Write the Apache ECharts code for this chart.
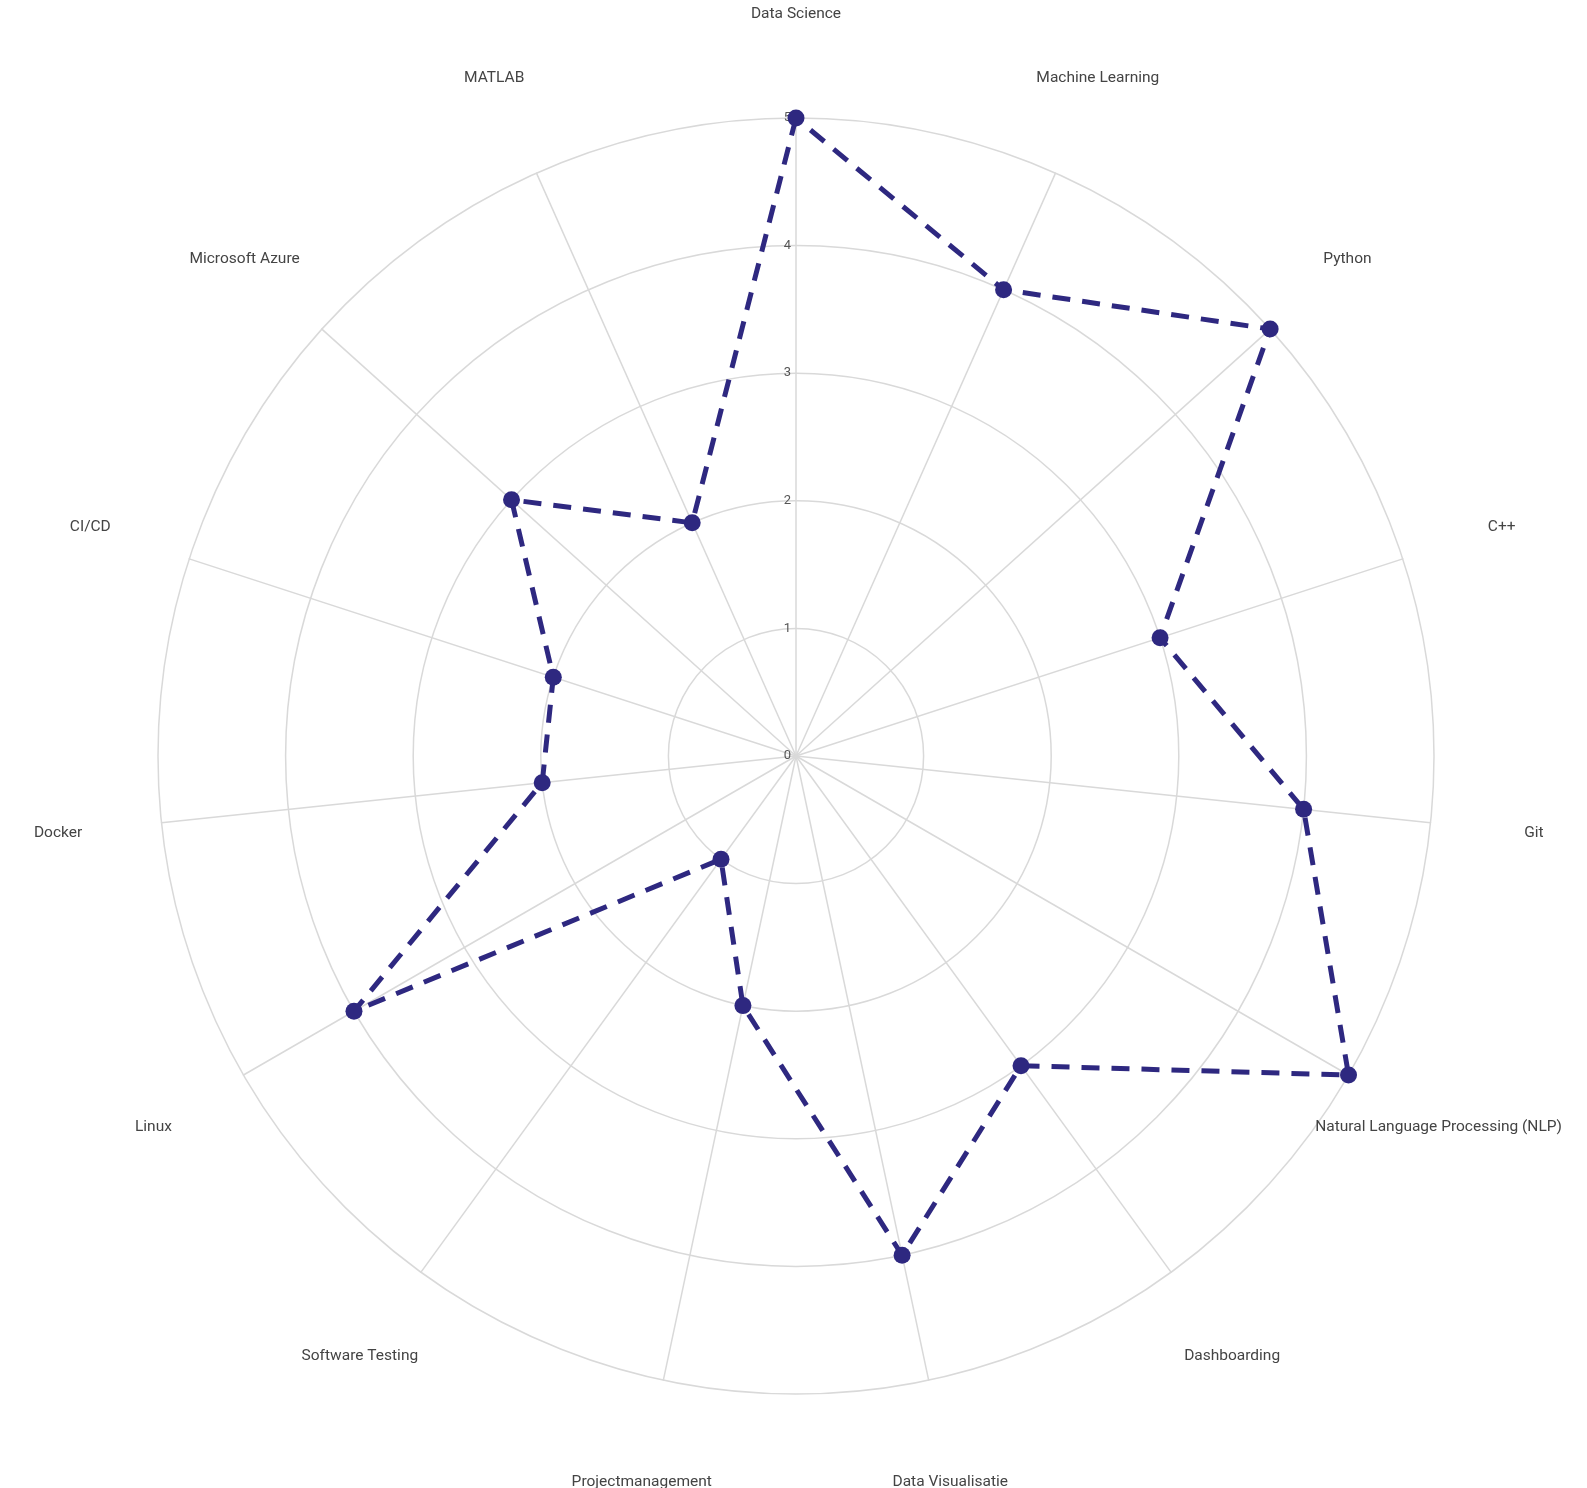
<!DOCTYPE html>
<html>
<head>
<meta charset="utf-8">
<script src="https://cdn.jsdelivr.net/npm/echarts@6/dist/echarts.min.js"></script>
<style>html,body{margin:0;padding:0;background:#fff}#c{width:1587px;height:1488px}</style>
</head>
<body>
<div id="c"></div>
<script>
// Clockwise order as seen in the reference, starting at the top
const skills = ['Data Science','Machine Learning','Python','C++','Git','Natural Language Processing (NLP)','Dashboarding','Data Visualisatie','Projectmanagement','Software Testing','Linux','Docker','CI/CD','Microsoft Azure','MATLAB'];
const levels = [5,4,5,3,4,5,3,4,2,1,4,2,2,3,2];
const maxLevel = 5;

// ECharts radar runs counter-clockwise, so reverse everything after the first item
const order = [0].concat(skills.map((_, i) => i).slice(1).reverse());
const indicators = order.map((i, k) => {
  const ind = { name: skills[i], max: maxLevel, min: 0 };
  if (k === 0) ind.axisLabel = { show: true };
  return ind;
});
const values = order.map(i => levels[i]);

const chart = echarts.init(document.getElementById('c'));
chart.setOption({
  backgroundColor: '#fff',
  animation: false,
  radar: {
    center: [796, 756],
    radius: 638,
    shape: 'circle',
    splitNumber: 5,
    startAngle: 90,
    indicator: indicators,
    nameGap: 104,
    axisName: { color: '#444', fontFamily: 'Roboto', fontSize: 15.5, align: 'center', verticalAlign: 'middle' },
    axisLine: { show: true, lineStyle: { color: '#d9d9d9', width: 1.5 } },
    splitLine: { show: true, lineStyle: { color: '#d9d9d9', width: 1.5 } },
    splitArea: { show: false },
    axisTick: { show: false },
    axisLabel: { show: false, color: '#555', fontFamily: 'Roboto', fontSize: 13, margin: 5, showMinLabel: true, showMaxLabel: true }
  },
  series: [{
    type: 'radar',
    symbol: 'circle',
    symbolSize: 17,
    itemStyle: { color: '#2e2880' },
    lineStyle: { color: '#2e2880', width: 5, type: [18, 12] },
    areaStyle: null,
    data: [{ value: values, name: 'Skills' }]
  }]
});
</script>
</body>
</html>
